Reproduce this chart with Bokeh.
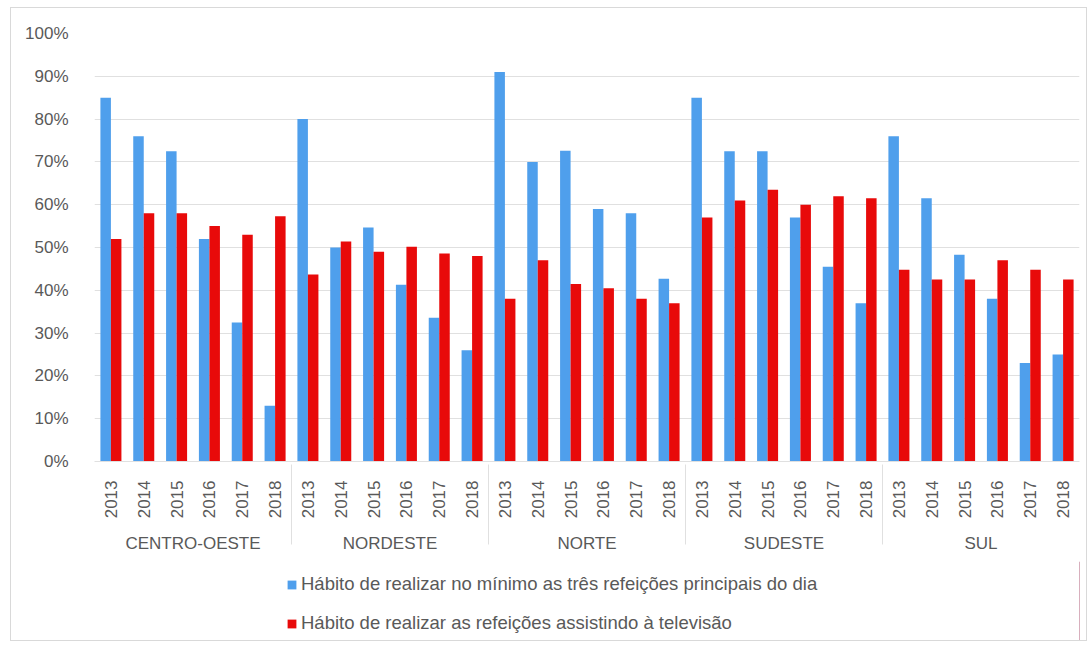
import math

from bokeh.plotting import figure
from bokeh.layouts import column
from bokeh.models import (ColumnDataSource, FactorRange, Range1d, NumeralTickFormatter,
                          FixedTicker, Legend, LegendItem)
from bokeh.transform import dodge
from bokeh.embed import file_html
from bokeh.resources import INLINE

# Regions and survey years
regions = ["CENTRO-OESTE", "NORDESTE", "NORTE", "SUDESTE", "SUL"]
years = ["2013", "2014", "2015", "2016", "2017", "2018"]

# Share of respondents (%) per region, one value per year
tres_refeicoes = [
    85, 76, 72.5, 52, 32.5, 13,      # CENTRO-OESTE
    80, 50, 54.7, 41.3, 33.6, 26,    # NORDESTE
    91, 70, 72.6, 59, 58, 42.7,      # NORTE
    85, 72.5, 72.5, 57, 45.5, 37,    # SUDESTE
    76, 61.5, 48.3, 38, 23, 25,      # SUL
]
assistindo_tv = [
    52, 58, 58, 55, 53, 57.3,        # CENTRO-OESTE
    43.7, 51.4, 49, 50.2, 48.6, 48,  # NORDESTE
    38, 47, 41.5, 40.5, 38, 37,      # NORTE
    57, 61, 63.5, 60, 62, 61.5,      # SUDESTE
    44.8, 42.5, 42.5, 47, 44.8, 42.5,  # SUL
]

legend_labels = [
    "Hábito de realizar no mínimo as três refeições principais do dia",
    "Hábito de realizar as refeições assistindo à televisão",
]

BLUE = "#4F9FEC"
RED = "#E80A0A"
TEXT = "#595959"
GRID = "#E0E0E0"
FONT = "Liberation Sans"
FS = "17px"

factors = [(r, y) for r in regions for y in years]
source = ColumnDataSource(data=dict(
    x=factors,
    refeicoes=[v / 100 for v in tres_refeicoes],
    tv=[v / 100 for v in assistindo_tv],
))

x_range = FactorRange(*factors, factor_padding=0, group_padding=0, range_padding=0)

p = figure(
    x_range=x_range, y_range=Range1d(0, 1),
    frame_width=985, frame_height=428,
    min_border_left=83, min_border_right=7, min_border_top=25, min_border_bottom=100,
    output_backend="svg", toolbar_location=None,
)
p.outline_line_color = None
p.background_fill_color = "white"
p.border_fill_color = "white"

p.vbar(x=dodge("x", -0.16, range=p.x_range), top="refeicoes", width=0.32,
       source=source, fill_color=BLUE, line_color=None)
p.vbar(x=dodge("x", 0.16, range=p.x_range), top="tv", width=0.32,
       source=source, fill_color=RED, line_color=None)

# Y axis: percentages every 10 %
p.yaxis.ticker = FixedTicker(ticks=[i / 10 for i in range(11)])
p.yaxis.formatter = NumeralTickFormatter(format="0%")
p.yaxis.axis_line_color = None
p.yaxis.major_tick_line_color = None
p.yaxis.minor_tick_line_color = None
p.yaxis.major_label_standoff = 20
p.yaxis.major_label_text_font = FONT
p.yaxis.major_label_text_font_size = FS
p.yaxis.major_label_text_color = TEXT

p.ygrid.grid_line_color = GRID
p.xgrid.grid_line_color = None

# X axis: years (rotated, reading upwards) grouped by region
xa = p.xaxis[0]
xa.axis_line_color = GRID
xa.major_tick_line_color = None
xa.minor_tick_line_color = None
xa.major_label_orientation = math.pi / 2
xa.major_label_text_font = FONT
xa.major_label_text_font_size = FS
xa.major_label_text_color = TEXT
xa.major_label_standoff = 13
xa.group_text_font = FONT
xa.group_text_font_size = FS
xa.group_text_font_style = "normal"
xa.group_text_color = TEXT
xa.group_label_orientation = "horizontal"
xa.separator_line_color = GRID
xa.separator_line_width = 1

# Legend strip underneath the chart; the swatch glyphs sit outside its visible range
leg = figure(
    width=1075, height=79, x_range=Range1d(0, 1), y_range=Range1d(0, 1),
    x_axis_location=None, y_axis_location=None,
    min_border=0, output_backend="svg", toolbar_location=None,
)
leg.grid.visible = False
leg.outline_line_color = None
leg.background_fill_color = "white"
leg.border_fill_color = "white"
sw_blue = leg.vbar(x=[5], top=[1], width=0.1, fill_color=BLUE, line_color=None)
sw_red = leg.vbar(x=[5], top=[1], width=0.1, fill_color=RED, line_color=None)

legend = Legend(
    items=[LegendItem(label=legend_labels[0], renderers=[sw_blue]),
           LegendItem(label=legend_labels[1], renderers=[sw_red])],
    orientation="vertical",
    location=(192, 6),
    label_text_font=FONT,
    label_text_font_size="18.5px",
    label_text_color=TEXT,
    label_standoff=4,
    glyph_width=11, glyph_height=11,
    label_height=20, spacing=17,
    padding=2, margin=0,
    border_line_color=None,
    background_fill_alpha=0,
)
leg.add_layout(legend, "center")

chart = column(p, leg, spacing=0)
chart.margin = (7, 0, 0, 10)
chart.styles = {"border": "1px solid #D9D9D9"}

open("out.html", "w").write(file_html(chart, INLINE))
